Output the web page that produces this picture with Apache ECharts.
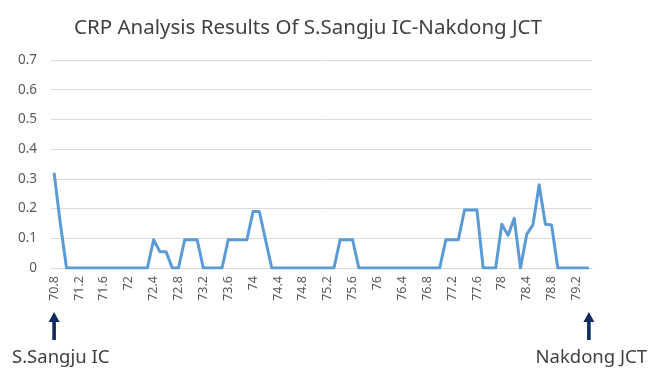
<!DOCTYPE html>
<html>
<head>
<meta charset="utf-8">
<script src="https://cdn.jsdelivr.net/npm/echarts@6/dist/echarts.min.js"></script>
<style>
html,body{margin:0;padding:0;background:#fff;}
#chart{width:659px;height:381px;}
</style>
</head>
<body>
<div id="chart"></div>
<script>
var titleText = 'CRP Analysis Results Of S.Sangju IC-Nakdong JCT';
var categories = ['70.8','70.9','71','71.1','71.2','71.3','71.4','71.5','71.6','71.7','71.8','71.9','72','72.1','72.2','72.3','72.4','72.5','72.6','72.7','72.8','72.9','73','73.1','73.2','73.3','73.4','73.5','73.6','73.7','73.8','73.9','74','74.1','74.2','74.3','74.4','74.5','74.6','74.7','74.8','74.9','75','75.1','75.2','75.3','75.4','75.5','75.6','75.7','75.8','75.9','76','76.1','76.2','76.3','76.4','76.5','76.6','76.7','76.8','76.9','77','77.1','77.2','77.3','77.4','77.5','77.6','77.7','77.8','77.9','78','78.1','78.2','78.3','78.4','78.5','78.6','78.7','78.8','78.9','79','79.1','79.2','79.3','79.4'];
var crpValues = [0.32,0.15,0,0,0,0,0,0,0,0,0,0,0,0,0,0,0.095,0.055,0.055,0,0,0.095,0.095,0.095,0,0,0,0,0.095,0.095,0.095,0.095,0.19,0.19,0.095,0,0,0,0,0,0,0,0,0,0,0,0.095,0.095,0.095,0,0,0,0,0,0,0,0,0,0,0,0,0,0,0.095,0.095,0.095,0.195,0.195,0.195,0,0,0,0.147,0.11,0.167,0,0.113,0.145,0.28,0.147,0.145,0,0,0,0,0,0];
var yTicks = [0,0.1,0.2,0.3,0.4,0.5,0.6,0.7];
var startLabel = 'S.Sangju IC';
var endLabel = 'Nakdong JCT';

var FONT = 'Noto Sans';
var chart = echarts.init(document.getElementById('chart'));
chart.setOption({
  animation: false,
  title: {
    text: titleText, left: 303, top: 13, textAlign: 'center',
    textStyle: {fontFamily: FONT, fontSize: 20.5, fontWeight: 'normal', color: '#404040'}
  },
  grid: {left: 51, right: 67, top: 60, bottom: 113},
  xAxis: {
    type: 'category', data: categories, boundaryGap: true,
    axisLine: {show: true, lineStyle: {color: '#d9d9d9'}},
    axisTick: {show: false},
    axisLabel: {interval: 3, rotate: 90, margin: 8, fontFamily: FONT, fontSize: 12.5, color: '#595959'}
  },
  yAxis: {
    type: 'value', min: 0, max: 0.7, interval: 0.1,
    axisLine: {show: false}, axisTick: {show: false},
    splitLine: {lineStyle: {color: '#d9d9d9', width: 1}},
    axisLabel: {margin: 14, fontFamily: FONT, fontSize: 13.5, color: '#595959',
      formatter: function(v){ var i = yTicks.indexOf(Math.round(v*10)/10); return i>=0 ? String(yTicks[i]) : ''; }}
  },
  series: [{
    type: 'line', data: crpValues, symbol: 'none',
    lineStyle: {color: '#5b9bd5', width: 3, join: 'round'}
  }]
});

function arrowGroup(x, label, align) {
  var navy = '#0f2a5c';
  return {
    type: 'group', children: [
      {type: 'polygon', shape: {points: [[x, 312], [x-5.5, 322], [x-1.8, 322], [x-1.8, 340], [x+1.8, 340], [x+1.8, 322], [x+5.5, 322]]}, style: {fill: navy}},
      {type: 'text', x: align === 'left' ? 12 : 647, y: 358,
        style: {text: label, fontFamily: FONT, fontSize: 18.5, fill: '#404040', align: align, verticalAlign: 'middle'}}
    ]
  };
}
var x0 = chart.convertToPixel({xAxisIndex: 0}, categories[0]);
var x1 = chart.convertToPixel({xAxisIndex: 0}, categories[categories.length-1]);
chart.setOption({graphic: [arrowGroup(x0, startLabel, 'left'), arrowGroup(x1, endLabel, 'right')]});
</script>
</body>
</html>
